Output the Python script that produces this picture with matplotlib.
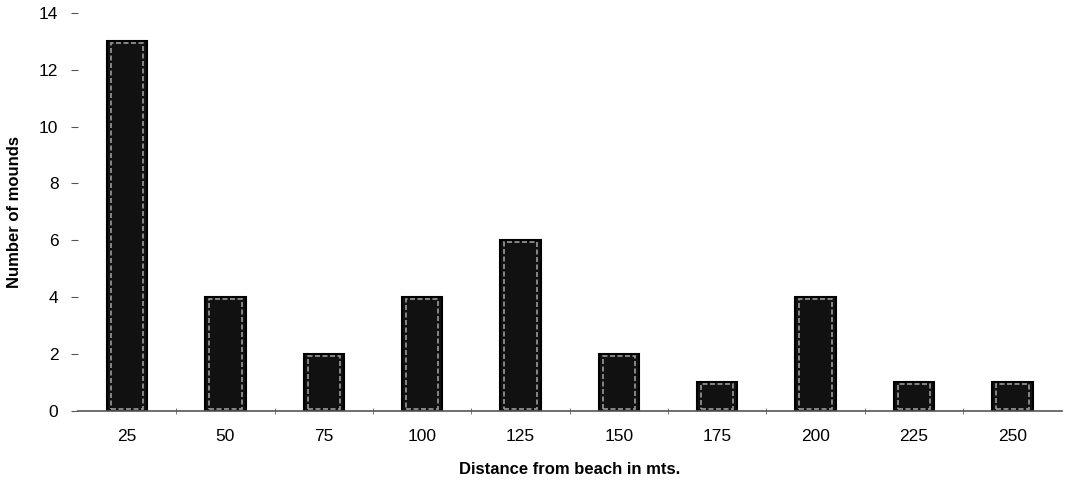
import numpy as np
import matplotlib
matplotlib.use("Agg")
import matplotlib.pyplot as plt

# data
distances = ["25", "50", "75", "100", "125", "150", "175", "200", "225", "250"]
mounds = [13, 4, 2, 4, 6, 2, 1, 4, 1, 1]

plt.rcParams['font.family'] = ['Liberation Sans', 'DejaVu Sans']

fig = plt.figure(figsize=(10.81, 4.95), dpi=100)
ax = fig.add_axes([0.072, 0.170, 0.910, 0.804])

x = np.arange(len(distances))
# outer dark bar
ax.bar(x, mounds, width=0.41, color='#111111', edgecolor='black', linewidth=1.5, zorder=2)
# light inner frame to mimic the scanned border look
ax.bar(x, np.array(mounds) - 0.12, bottom=0.06, width=0.33, color='none',
       edgecolor='#9a9a9a', linewidth=1.2, linestyle=(0, (3, 1.5)), zorder=3)

ax.set_xlim(-0.5, len(distances) - 0.5)
ax.set_ylim(0, 14)
ax.set_yticks(range(0, 15, 2))
ax.set_xticks(x)
ax.set_xticklabels(distances)
ax.tick_params(axis='x', length=0, pad=13, labelsize=12.5)
ax.tick_params(axis='y', length=5, width=0.8, color='#555555', pad=9, labelsize=12.5)

# small ticks between categories on the x axis
ax.set_xticks(x[:-1] + 0.5, minor=True)
ax.tick_params(axis='x', which='minor', length=4, direction='inout', color='#666666')

for s in ['top', 'right', 'left']:
    ax.spines[s].set_visible(False)
ax.spines['bottom'].set_color('#555555')
ax.spines['bottom'].set_linewidth(1.2)

ax.set_xlabel("Distance from beach in mts.", fontsize=12, fontweight='bold', labelpad=13)
ax.set_ylabel("Number of mounds", fontsize=12, fontweight='bold', labelpad=12)

fig.savefig("out.png", dpi=100)
